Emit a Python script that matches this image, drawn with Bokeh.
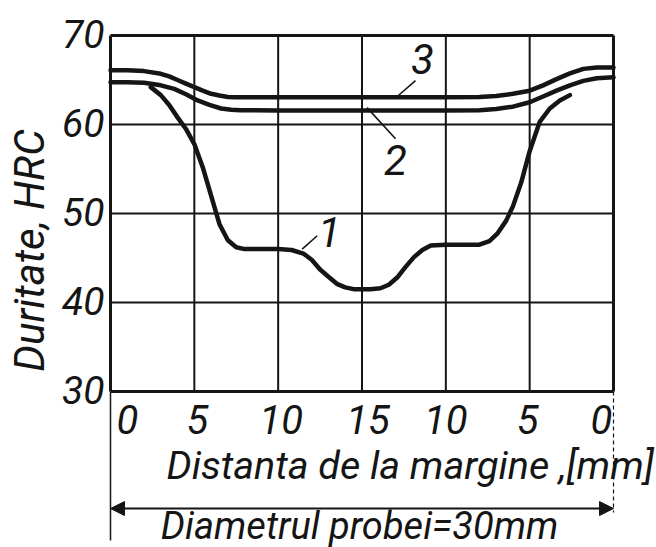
import math
from bokeh.plotting import figure
from bokeh.models import Range1d, Arrow, NormalHead
from bokeh.core.properties import value
from bokeh.embed import file_html
from bokeh.resources import INLINE

# ---- data ----
tick_pos = [0, 5, 10, 15, 20, 25, 30]
tick_labels = ["0", "5", "10", "15", "10", "5", "0"]
y_ticks = [30, 40, 50, 60, 70]
y_tick_labels = ["30", "40", "50", "60", "70"]

c3_x = [0, 1, 2, 3, 3.5, 4, 4.5, 5, 5.5, 6, 6.5, 7, 7.5, 8, 10, 12, 15, 18, 20, 22, 23, 24,
        25, 25.8, 26.6, 27.4, 28.2, 29, 30]
c3_y = [66.1, 66.1, 66.0, 65.7, 65.4, 65.0, 64.6, 64.2, 63.8, 63.45, 63.25, 63.1, 63.07,
        63.05, 63.05, 63.05, 63.05, 63.05, 63.05, 63.1, 63.2, 63.45, 63.8, 64.4, 65.1, 65.75,
        66.25, 66.4, 66.4]

c2_x = [0, 1, 2, 3, 3.8, 4.5, 5.2, 5.9, 6.6, 7.2, 7.75, 10, 12, 15, 18, 20, 22, 23, 24, 25,
        25.8, 26.6, 27.4, 28.2, 29, 30]
c2_y = [64.75, 64.75, 64.7, 64.4, 64.0, 63.4, 62.7, 62.2, 61.8, 61.65, 61.6, 61.57, 61.57,
        61.57, 61.57, 61.57, 61.6, 61.75, 62.0, 62.5, 63.15, 63.8, 64.4, 64.9, 65.2, 65.3]

c1_x = [2.4, 3.0, 3.5, 4.0, 4.5, 5.0, 5.5, 6.0, 6.5, 7.0, 7.5, 8.0, 9.0, 10.0, 10.8, 11.5,
        12.0, 12.5, 13.0, 13.5, 14.0, 14.5, 15.0, 15.5, 16.1, 16.6, 17.1, 17.6, 18.1, 18.6,
        19.1, 20.0, 21.0, 22.0, 22.6, 23.1, 23.6, 24.0, 24.5, 25.0, 25.6, 26.2, 26.8, 27.4]
c1_y = [64.2, 63.3, 62.2, 60.8, 59.5, 57.8, 55.2, 52.0, 48.8, 47.0, 46.2, 46.0, 46.0, 46.0,
        45.9, 45.5, 44.8, 43.7, 42.9, 42.1, 41.7, 41.5, 41.5, 41.5, 41.6, 42.0, 42.8, 44.0,
        45.1, 45.9, 46.4, 46.5, 46.5, 46.5, 46.9, 47.8, 49.2, 50.8, 53.5, 57.0, 60.3, 61.8,
        62.7, 63.3]

curve_names = ["1", "2", "3"]
name_pos_x = [13.06, 17.0, 18.6]
name_pos_y = [47.9, 56.0, 67.4]
leader_x0 = [11.43, 15.3, 17.17]
leader_y0 = [46.0, 61.9, 63.26]
leader_x1 = [12.33, 17.0, 18.19]
leader_y1 = [47.5, 58.4, 64.94]

x_title = "Distanta de la margine ,[mm]"
diam_title = "Diametrul probei=30mm"
y_title = "Duritate, HRC"

# ---- layout / style ----
INK = "#151515"
FONT = value("Roboto")
W, H = 656, 547
GL, GR, GT, GB = 110, 613, 35, 391        # grid box in canvas pixels
sx = (GR - GL) / 30.0
sy = (GB - GT) / 40.0
x0 = 0 - GL / sx
x1 = 30 + (W - GR) / sx
y0 = 30 - (H - GB) / sy
y1 = 70 + GT / sy

p = figure(width=W, height=H, output_backend="svg", toolbar_location=None,
           x_range=Range1d(x0, x1), y_range=Range1d(y0, y1),
           x_axis_location=None, y_axis_location=None,
           min_border=0, min_border_left=0, min_border_right=0,
           min_border_top=0, min_border_bottom=0)
p.outline_line_color = None
p.grid.visible = False
p.background_fill_color = "white"
p.border_fill_color = "white"

# grid
inner_x = tick_pos[1:-1]
inner_y = y_ticks[1:-1]
p.segment(inner_x, [30] * len(inner_x), inner_x, [70] * len(inner_x), line_color=INK, line_width=2)
p.segment([0] * len(inner_y), inner_y, [30] * len(inner_y), inner_y, line_color=INK, line_width=2)
# frame
p.segment([0, 30, 0, 0], [30, 30, 30, 70], [0, 30, 30, 30], [70, 70, 30, 70],
          line_color=INK, line_width=3)

# curves
for xs, ys in ((c3_x, c3_y), (c2_x, c2_y), (c1_x, c1_y)):
    p.line(xs, ys, line_color=INK, line_width=4.5, line_join="round", line_cap="round")

# leaders + curve numbers
p.segment(leader_x0, leader_y0, leader_x1, leader_y1, line_color=INK, line_width=1.6)
p.text(name_pos_x, name_pos_y, text=curve_names, text_font=FONT, text_font_style="italic",
       text_font_size="42px", text_color=INK, text_align="center", text_baseline="middle")

# y tick labels
p.text([0] * len(y_ticks), y_ticks, text=y_tick_labels, x_offset=-6, y_offset=-2, text_font=FONT,
       text_font_style="italic", text_font_size="39px", text_color=INK,
       text_align="right", text_baseline="middle")

# x tick labels
x_off = [17, 3, 3, 6, 0, -2, -12]
p.text(tick_pos, [30] * len(tick_pos), text=tick_labels, x_offset=x_off, y_offset=28,
       text_font=FONT, text_font_style="italic", text_font_size="40px", text_color=INK,
       text_align="center", text_baseline="middle")

# titles
p.text([3.34], [21.69], text=[x_title], text_font=FONT, text_font_style="italic",
       text_font_size="39.5px", text_color=INK, text_align="left", text_baseline="middle")
p.text([3.0], [14.9], text=[diam_title], text_font=FONT, text_font_style="italic",
       text_font_size="38px", text_color=INK, text_align="left", text_baseline="middle")
p.text([-4.83], [45.84], text=[y_title], angle=math.pi / 2, text_font=FONT,
       text_font_style="italic", text_font_size="42px", text_color=INK,
       text_align="center", text_baseline="middle")

# diameter dimension line and extension lines
p.add_layout(Arrow(x_start=0, y_start=16.85, x_end=30, y_end=16.85, line_color=INK, line_width=2,
                   start=NormalHead(size=14, fill_color=INK, line_color=INK),
                   end=NormalHead(size=14, fill_color=INK, line_color=INK)))
p.segment([0], [30], [0], [13.26], line_color=INK, line_width=1.5)
p.segment([30], [30], [30], [16.4], line_color=INK, line_width=1.2, line_dash="4 3")

open("out.html", "w").write(file_html(p, INLINE))
